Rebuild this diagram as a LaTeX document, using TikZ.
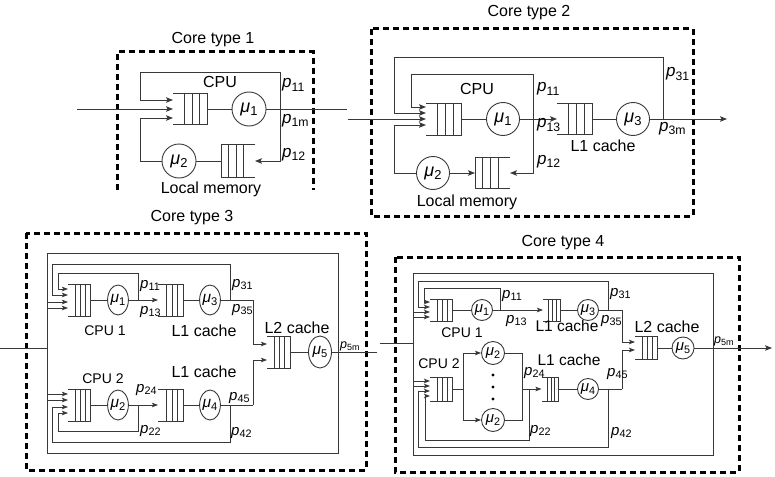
\documentclass[tikz,border=0pt]{standalone}
\usepackage{fontspec}
\setmainfont{Liberation Sans}
\usetikzlibrary{arrows.meta,calc,shapes.geometric}

\newcommand\fsz[1]{\fontsize{#1}{#1}\selectfont}
\newcommand\pp[1]{{\itshape p}\raisebox{-0.35ex}{\scalebox{0.72}{#1}}}
\newcommand\mm[1]{{\itshape μ}\raisebox{-0.35ex}{\scalebox{0.72}{#1}}}
\newcommand\qL[1]{%
  \draw[ln] (#1.north west) -- (#1.north east) -- (#1.south east) -- (#1.south west);
  \foreach \f in {0.34,0.56,0.78}{\draw[ln] ($(#1.north west)!\f!(#1.north east)$) -- ($(#1.south west)!\f!(#1.south east)$);}}
\newcommand\qR[1]{%
  \draw[ln] (#1.north east) -- (#1.north west) -- (#1.south west) -- (#1.south east);
  \foreach \f in {0.22,0.44,0.66}{\draw[ln] ($(#1.north west)!\f!(#1.north east)$) -- ($(#1.south west)!\f!(#1.south east)$);}}

\tikzset{
  ln/.style={line width=0.9pt, draw=black!78},
  arr/.style={ln, -{Stealth[length=7pt,width=5.5pt,inset=1.5pt]}},
  sarr/.style={ln, -{Stealth[length=6pt,width=4.5pt,inset=1.2pt]}},
  dbox/.style={line width=3pt, dash pattern=on 6pt off 4pt, draw=black},
  q/.style args={#1x#2}{minimum width=#1pt, minimum height=#2pt, inner sep=0pt, outer sep=0pt},
  mu/.style={circle, draw, ln, minimum size=#1pt, inner sep=0pt, font=\fsz{18}},
  smu/.style={circle, draw, ln, minimum size=#1pt, inner sep=0pt, font=\fsz{15}},
  mue/.style args={#1x#2}{ellipse, draw, ln, minimum width=#1pt, minimum height=#2pt, inner sep=0pt, font=\fsz{15.5}},
  t16/.style={font=\fsz{16}, inner sep=0pt},
  t17/.style={font=\fsz{17}, inner sep=0pt},
  t15/.style={font=\fsz{15.5}, inner sep=0pt},
  t14/.style={font=\fsz{14}, inner sep=0pt},
  tp/.style={font=\fsz{15}, inner sep=0pt},
  t12/.style={font=\fsz{12.5}, inner sep=0pt},
  rbox/.style={draw, ln, inner sep=0pt, outer sep=0pt},
  dotn/.style={circle, fill=black, inner sep=0pt, minimum size=3.4pt},
}

\begin{document}
\begin{tikzpicture}[x=1pt,y=-1pt]
\useasboundingbox (0,0) rectangle (775,476);

%%%%%%%%%%%%%%%% Core type 1
\node[t16, anchor=base] (t1) at (213,44) {Core type 1};
\draw[dbox] (117,190) -- (117,52) -- (313,52) -- (313,190);
\node[q=34x31] (q11) at (190,109) {}; \qL{q11}
\node[mu=34] (m11) at (249,109) {\mm{1}};
\node[mu=34] (m12) at (179,161) {\mm{2}};
\node[q=34x33] (qm1) at (238,161) {}; \qR{qm1}
\coordinate (in1) at (77,109);
\coordinate (out1) at (347,109);
\coordinate (j1) at (280,109);
\draw[ln] (q11.east) -- (m11);
\draw[ln] (m11) -- (out1);
\draw[arr] (in1) -- (q11.west);
\draw[arr] (j1) |- (140,72) |- ([yshift=9pt]q11.west);
\draw[arr] (j1) |- (qm1.east);
\draw[ln] (m12) -- (qm1.west);
\draw[arr] (m12.west) -- (140,161) |- ([yshift=-9pt]q11.west);
\node[t16, anchor=base] (cpu1) at (220,88) {CPU};
\node[t17, anchor=base west] (l111) at (282,88) {\pp{11}};
\node[t17, anchor=base west] (l11m) at (282,123) {\pp{1m}};
\node[t17, anchor=base west] (l112) at (282,157) {\pp{12}};
\node[t16, anchor=base] (lm1) at (211,193) {Local memory};

%%%%%%%%%%%%%%%% Core type 2
\node[t16, anchor=base] (t2) at (529,17) {Core type 2};
\draw[dbox] (371,29) rectangle (693,216);
\node[q=35x32] (q21) at (443.5,119) {}; \qL{q21}
\node[mu=33] (m21) at (503,119) {\mm{1}};
\node[q=35x31] (q23) at (574.5,119) {}; \qL{q23}
\node[mu=33] (m23) at (633,119) {\mm{3}};
\node[mu=33] (m22) at (433,173) {\mm{2}};
\node[q=35x31] (qm2) at (492.5,173) {}; \qR{qm2}
\coordinate (in2) at (348,119);
\coordinate (out2) at (727,119);
\coordinate (j21) at (533,119);
\coordinate (j23) at (663,119);
\draw[ln] (q21.east) -- (m21);
\draw[arr] (m21) -- (q23.west);
\draw[ln] (q23.east) -- (m23);
\draw[arr] (m23) -- (out2);
\draw[arr] (in2) -- (q21.west);
\draw[arr] (j23) |- (394,57) |- ([yshift=6pt]q21.west);
\draw[arr] (j21) |- (411,74) |- ([yshift=12pt]q21.west);
\draw[arr] (j21) |- (qm2.east);
\draw[arr] (m22) -- (qm2.west);
\draw[arr] (m22.west) -- (394,173) |- ([yshift=-6pt]q21.west);
\node[t16, anchor=base] (cpu2) at (477,95) {CPU};
\node[t17, anchor=base west] (l211) at (537,92) {\pp{11}};
\node[t17, anchor=base west] (l213) at (537,128) {\pp{13}};
\node[t17, anchor=base west] (l212) at (537,164) {\pp{12}};
\node[t16, anchor=base] (l2c) at (603,151) {L1 cache};
\node[t17, anchor=base west] (l231) at (666,77) {\pp{31}};
\node[t17, anchor=base west] (l23m) at (659,131) {\pp{3m}};
\node[t16, anchor=base] (lm2) at (467,206) {Local memory};

%%%%%%%%%%%%%%%% Core type 3
\node[t16, anchor=base] (t3) at (192,221) {Core type 3};
\draw[dbox] (26,233) rectangle (366,470);
\node[rbox, minimum width=291pt, minimum height=200pt] (r3) at (192.5,353) {};
\node[q=22x32] (q31) at (79,300) {}; \qL{q31}
\node[mue=20x30] (m31) at (118,300) {\mm{1}};
\node[q=25x32] (q33) at (170.5,300) {}; \qL{q33}
\node[mue=20x30] (m33) at (210,300) {\mm{3}};
\node[q=22x32] (q32) at (79,405) {}; \qL{q32}
\node[mue=20x30] (m32) at (118,405) {\mm{2}};
\node[q=25x32] (q34) at (170.5,405) {}; \qL{q34}
\node[mue=20x30] (m34) at (210,405) {\mm{4}};
\node[q=23x32] (q35) at (278.5,352) {}; \qL{q35}
\node[mue=23x32] (m35) at (320,352) {\mm{5}};
\coordinate (in3) at (0,348);
\coordinate (out3) at (377,352);
\coordinate (j311) at (138,300);
\coordinate (j331) at (230,300);
\coordinate (k35) at (253,300);
\coordinate (j321) at (138,405);
\coordinate (j341) at (230,405);
\coordinate (k45) at (253,405);
\draw[ln] (in3) -- (in3 -| r3.west);
\draw[ln] (m35) -- (out3);
\draw[ln] (q35.east) -- (m35);
% CPU 1
\draw[ln] (q31.east) -- (m31);
\draw[sarr] (m31) -- (q33.west);
\draw[ln] (q33.east) -- (m33);
\draw[ln] (m33) -- (k35);
\draw[sarr] (k35) |- ([yshift=8pt]q35.west);
\draw[sarr] (j311) |- (58,273) |- ([yshift=11pt]q31.west);
\draw[sarr] (j331) |- (52,264) |- ([yshift=5pt]q31.west);
\draw[sarr] ([yshift=-2pt]q31.west -| r3.west) -- ([yshift=-2pt]q31.west);
\draw[sarr] ([yshift=-8pt]q31.west -| r3.west) -- ([yshift=-8pt]q31.west);
% CPU 2
\draw[ln] (q32.east) -- (m32);
\draw[sarr] (m32) -- (q34.west);
\draw[ln] (q34.east) -- (m34);
\draw[ln] (m34) -- (k45);
\draw[sarr] (k45) |- ([yshift=-8pt]q35.west);
\draw[sarr] (j321) |- (58,431) |- ([yshift=-8pt]q32.west);
\draw[sarr] (j341) |- (52,442) |- ([yshift=-2pt]q32.west);
\draw[sarr] ([yshift=11pt]q32.west -| r3.west) -- ([yshift=11pt]q32.west);
\draw[sarr] ([yshift=5pt]q32.west -| r3.west) -- ([yshift=5pt]q32.west);
% labels
\node[tp, anchor=base west] (l311) at (140,288) {\pp{11}};
\node[tp, anchor=base west] (l313) at (140,314) {\pp{13}};
\node[tp, anchor=base west] (l331) at (232,287) {\pp{31}};
\node[tp, anchor=base west] (l335) at (232,312) {\pp{35}};
\node[t14, anchor=base] (c31) at (105,335) {CPU 1};
\node[t16, anchor=base] (c3l1a) at (204,336) {L1 cache};
\node[t16, anchor=base] (c3l2) at (297,333) {L2 cache};
\node[t12, anchor=base west] (l35m) at (340,348) {\pp{5m}};
\node[t16, anchor=base] (c3l1b) at (204,377) {L1 cache};
\node[t14, anchor=base] (c32) at (103,383) {CPU 2};
\node[tp, anchor=base west] (l324) at (136,392) {\pp{24}};
\node[tp, anchor=base west] (l322) at (140,433) {\pp{22}};
\node[tp, anchor=base west] (l345) at (229,400) {\pp{45}};
\node[tp, anchor=base west] (l342) at (231,435) {\pp{42}};

%%%%%%%%%%%%%%%% Core type 4
\node[t16, anchor=base] (t4) at (563,246) {Core type 4};
\draw[dbox] (395,257) rectangle (739,472);
\node[rbox, minimum width=300pt, minimum height=182pt] (r4) at (563,364) {};
\node[q=22x22] (q41) at (441,310) {}; \qL{q41}
\node[smu=21] (m41) at (482,310) {\mm{1}};
\node[q=17x22] (q43) at (551.5,310) {}; \qL{q43}
\node[smu=21] (m43) at (588,310) {\mm{3}};
\node[q=22x24] (q42) at (441,389) {}; \qL{q42}
\node[smu=23] (m42a) at (493,353) {\mm{2}};
\node[smu=23] (m42b) at (493,420) {\mm{2}};
\node[dotn] (d1) at (493,375) {};
\node[dotn] (d2) at (493,387) {};
\node[dotn] (d3) at (493,399) {};
\node[q=17x24] (q44) at (550,389) {}; \qL{q44}
\node[smu=21] (m44) at (588,389) {\mm{4}};
\node[q=22x23] (q45) at (646,348) {}; \qL{q45}
\node[smu=22] (m45) at (683,348) {\mm{5}};
\coordinate (in4) at (380,343);
\coordinate (out4) at (772,348);
\coordinate (j411) at (500,310);
\coordinate (j431) at (608,310);
\coordinate (k435) at (622,310);
\coordinate (f1) at (463,389);
\coordinate (g1) at (522,389);
\coordinate (j422) at (529,389);
\coordinate (j441) at (608,389);
\coordinate (k445) at (622,389);
\draw[ln] (in4) -- (in4 -| r4.west);
\draw[ln] (q45.east) -- (m45);
\draw[arr] (m45) -- (out4);
% CPU 1
\draw[ln] (q41.east) -- (m41);
\draw[sarr] (m41) -- (q43.west);
\draw[ln] (q43.east) -- (m43);
\draw[ln] (m43) -- (k435);
\draw[sarr] (k435) |- ([yshift=6pt]q45.west);
\draw[sarr] (j411) |- (424,288) |- ([yshift=8pt]q41.west);
\draw[sarr] (j431) |- (418,281) |- ([yshift=3pt]q41.west);
\draw[sarr] ([yshift=-2pt]q41.west -| r4.west) -- ([yshift=-2pt]q41.west);
\draw[sarr] ([yshift=-7pt]q41.west -| r4.west) -- ([yshift=-7pt]q41.west);
% CPU 2
\draw[ln] (q42.east) -- (f1);
\draw[sarr] (f1) |- (m42a.west);
\draw[sarr] (f1) |- (m42b.west);
\draw[ln] (m42a.east) -| (g1);
\draw[ln] (m42b.east) -| (g1);
\draw[sarr] (g1) -- (q44.west);
\draw[sarr] (j422) |- (425,440) |- ([yshift=-7pt]q42.west);
\draw[ln] (q44.east) -- (m44);
\draw[ln] (m44) -- (k445);
\draw[sarr] (k445) |- ([yshift=-2pt]q45.west);
\draw[sarr] (j441) |- (418,447) |- ([yshift=-2pt]q42.west);
\draw[sarr] ([yshift=8pt]q42.west -| r4.west) -- ([yshift=8pt]q42.west);
\draw[sarr] ([yshift=3pt]q42.west -| r4.west) -- ([yshift=3pt]q42.west);
% labels
\node[tp, anchor=base west] (l411) at (502,298) {\pp{11}};
\node[tp, anchor=base west] (l413) at (506,323) {\pp{13}};
\node[t14, anchor=base] (c41) at (462,337) {CPU 1};
\node[t15, anchor=base] (c4l1a) at (567,331) {L1 cache};
\node[tp, anchor=base west] (l431) at (610,296) {\pp{31}};
\node[tp, anchor=base west] (l435) at (601,323) {\pp{35}};
\node[t16, anchor=base] (c4l2) at (667,332) {L2 cache};
\node[t12, anchor=base west] (l45m) at (714,343) {\pp{5m}};
\node[t14, anchor=base] (c42) at (439,368) {CPU 2};
\node[t15, anchor=base] (c4l1b) at (569,365) {L1 cache};
\node[tp, anchor=base west] (l424) at (524,375) {\pp{24}};
\node[tp, anchor=base west] (l445) at (607,376) {\pp{45}};
\node[tp, anchor=base west] (l422) at (530,433) {\pp{22}};
\node[tp, anchor=base west] (l442) at (611,435) {\pp{42}};
\end{tikzpicture}
\end{document}
